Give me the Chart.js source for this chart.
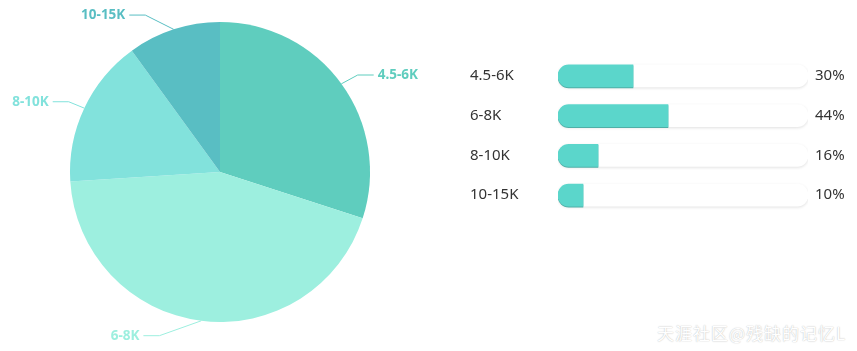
<!DOCTYPE html>
<html>
<head>
<meta charset="utf-8">
<script src="https://cdn.jsdelivr.net/npm/chart.js@4.4.1/dist/chart.umd.min.js"></script>
<style>
  html, body { margin: 0; padding: 0; background: #fff; }
  #wrap { position: relative; width: 857px; height: 351px; overflow: hidden; }
  #pie { position: absolute; left: 0; top: 0; }
  #bars { position: absolute; left: 460px; top: 40px; }
  #mark {
    position: absolute; left: 657px; top: 320px; line-height: 1;
    font: 17px "Noto Sans CJK SC"; letter-spacing: 1px; color: #fff;
    text-shadow: 0 0 1px rgba(0,0,0,.22), 0 0 2px rgba(0,0,0,.12);
  }
</style>
</head>
<body>
<div id="wrap">
  <canvas id="pie" width="440" height="351"></canvas>
  <canvas id="bars" width="397" height="191"></canvas>
  <div id="mark">天涯社区@残缺的记忆L</div>
</div>
<script>
const categories = ['4.5-6K', '6-8K', '8-10K', '10-15K'];
const shares = [30, 44, 16, 10];
const trackMax = [100, 100, 100, 100];
const sliceColors = ['#5fcdbe', '#9defdf', '#82e2dc', '#59bec3'];

// leader lines + labels round the pie
const pieLabels = {
  id: 'pieLabels',
  afterDatasetsDraw(chart) {
    const ctx = chart.ctx;
    const meta = chart.getDatasetMeta(0);
    ctx.save();
    ctx.font = 'bold 13.5px "Noto Sans"';
    ctx.lineWidth = 1;
    meta.data.forEach((arc, i) => {
      const p = arc.getProps(['x', 'y', 'outerRadius', 'startAngle', 'endAngle'], true);
      const a = (p.startAngle + p.endAngle) / 2;
      const dir = Math.cos(a) >= 0 ? 1 : -1;
      const rA = p.outerRadius + 15, rB = p.outerRadius + 26;
      const ex = p.x + Math.cos(a) * p.outerRadius;
      const ey = p.y + Math.sin(a) * p.outerRadius;
      const dy = Math.sin(a) * rA;
      const kx = p.x + dir * rA * Math.sqrt(Math.max(0, 1 - (dy * dy) / (rB * rB)));
      const ky = p.y + dy;
      const tx = kx + dir * 16;
      ctx.strokeStyle = ctx.fillStyle = sliceColors[i];
      ctx.beginPath();
      ctx.moveTo(ex, ey);
      ctx.lineTo(kx, ky);
      ctx.lineTo(tx, ky);
      ctx.stroke();
      ctx.textAlign = dir > 0 ? 'left' : 'right';
      ctx.textBaseline = 'middle';
      ctx.fillText(categories[i], tx + dir * 4, ky);
    });
    ctx.restore();
  }
};

new Chart(document.getElementById('pie'), {
  type: 'pie',
  data: {
    labels: categories,
    datasets: [{
      data: shares,
      backgroundColor: sliceColors,
      borderWidth: 0,
    }],
  },
  options: {
    responsive: false,
    animation: false,
    layout: { padding: { top: 22, bottom: 29, left: 70, right: 70 } },
    plugins: { legend: { display: false }, tooltip: { enabled: false } },
  },
  plugins: [pieLabels],
});

// soft shadow under the track, darker edge under the fill
const barShadow = {
  id: 'barShadow',
  beforeDatasetDraw(chart, args) {
    const ctx = chart.ctx;
    ctx.save();
    if (args.index === 1) {
      ctx.shadowColor = 'rgba(0,0,0,0.12)';
      ctx.shadowBlur = 3;
      ctx.shadowOffsetY = 1;
    } else {
      ctx.shadowColor = 'rgba(40,160,150,0.8)';
      ctx.shadowBlur = 0;
      ctx.shadowOffsetY = 1;
    }
  },
  afterDatasetDraw(chart) {
    chart.ctx.restore();
  }
};

const tickFont = { size: 15, family: '"Noto Sans"' };

new Chart(document.getElementById('bars'), {
  type: 'bar',
  data: {
    labels: categories,
    datasets: [
      {
        data: shares,
        backgroundColor: '#5bd6cb',
        borderRadius: { topLeft: 11, bottomLeft: 11 },
        borderSkipped: false,
        barThickness: 22,
        grouped: false,
        order: 0,
      },
      {
        data: trackMax,
        backgroundColor: '#fff',
        borderRadius: 11,
        borderSkipped: false,
        barThickness: 22,
        grouped: false,
        order: 1,
      },
    ],
  },
  options: {
    indexAxis: 'y',
    responsive: false,
    animation: false,
    layout: { padding: { left: 10, right: 0, top: 0, bottom: 0 } },
    plugins: { legend: { display: false }, tooltip: { enabled: false } },
    scales: {
      x: { display: false, min: 0, max: 100 },
      y: {
        grid: { display: false, drawTicks: false },
        border: { display: false },
        ticks: { crossAlign: 'far', color: '#333', font: tickFont, padding: 0 },
        afterFit(s) { s.width = 88; },
      },
      y2: {
        type: 'category',
        position: 'right',
        labels: shares.map(v => v + '%'),
        offset: true,
        grid: { display: false, drawTicks: false },
        border: { display: false },
        ticks: { color: '#333', font: tickFont, padding: 7 },
        afterFit(s) { s.width = 49; },
      },
    },
  },
  plugins: [barShadow],
});
</script>
</body>
</html>
